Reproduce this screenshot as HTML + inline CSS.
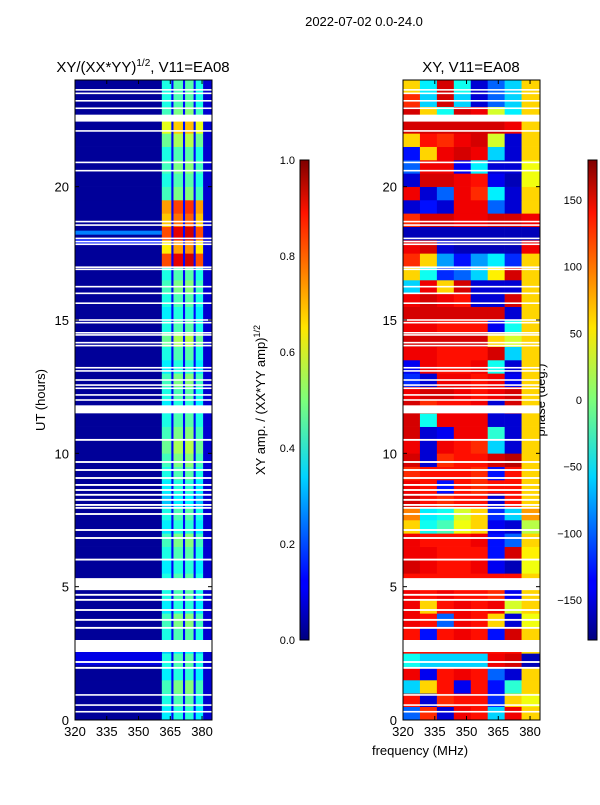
<!DOCTYPE html>
<html><head><meta charset="utf-8">
<style>
body{margin:0;background:#fff;}
svg text{font-family:"Liberation Sans",sans-serif;fill:#000;}
</style></head>
<body>
<svg id="fig" width="600" height="800" xmlns="http://www.w3.org/2000/svg">
<defs>
<linearGradient id="jet" x1="0" y1="1" x2="0" y2="0">
<stop offset="0" stop-color="#00007f"/><stop offset="0.11" stop-color="#0000ff"/>
<stop offset="0.125" stop-color="#0000ff"/><stop offset="0.34" stop-color="#00d4ff"/>
<stop offset="0.5" stop-color="#7dff7a"/><stop offset="0.65" stop-color="#ffe600"/>
<stop offset="0.89" stop-color="#ff1300"/><stop offset="1" stop-color="#7f0000"/>
</linearGradient>
</defs>
<text x="364" y="26" font-size="13" text-anchor="middle">2022-07-02 0.0-24.0</text>
<text x="143" y="72" font-size="15" text-anchor="middle">XY/(XX*YY)<tspan font-size="10" dy="-6">1/2</tspan><tspan dy="6">, V11=EA08</tspan></text>
<text x="471" y="72" font-size="15" text-anchor="middle">XY, V11=EA08</text>
<text transform="translate(45,400) rotate(-90)" font-size="13" text-anchor="middle">UT (hours)</text>
<text x="420" y="755" font-size="13" text-anchor="middle">frequency (MHz)</text>
<text transform="translate(265,400) rotate(-90)" font-size="13" text-anchor="middle">XY amp. / (XX*YY amp)<tspan font-size="9" dy="-5">1/2</tspan></text>
<text transform="translate(545,400) rotate(-90)" font-size="13" text-anchor="middle">phase (deg.)</text>
<g id="left"></g>
<g id="right"></g>
<g id="axes"></g>
<rect x="300" y="160" width="9" height="480" fill="url(#jet)" stroke="#000" stroke-width="1"/>
<rect x="588" y="160" width="9" height="480" fill="url(#jet)" stroke="#000" stroke-width="1"/>
</svg>
<script>
// ---- data ----
const ampColEdges=[320,361,365.5,366.5,371,372,376,377,380.5,384.7];
const ampColVals=[0.025,0.40,0.12,0.45,0.13,0.46,0.13,0.40,0.08];
// half-hour row gains for band region (0h upward)
const ampRowGain=[0.9,1.0,1.1,0.9,1.0,0.8,1.0,1.1,0.9,1.0,1.0,0.9,1.0,1.1,0.9,1.0,0.8,0.9,1.0,1.1,1.2,1.1,1.0,0.9,1.0,1.1,0.9,1.0,1.2,1.0,0.9,1.0,1.1,1.0,2.0,1.6,2.0,1.7,1.8,1.1,1.0,1.1,1.0,1.2,1.5,1.1,1.0,1.0];
const ampLowRows=[[2.05,2.55,0.1],[18.2,18.35,0.25],[17.85,18.05,0.15]];
const gaps=[[0.28,0.34],[0.53,0.59],[0.91,0.97],[1.92,1.99],[2.14,2.21],[2.55,3.0],[3.42,3.49],[3.72,3.79],[4.09,4.16],[4.47,4.54],[4.66,4.73],[4.87,5.32],[5.98,6.05],[6.79,6.86],[7.09,7.16],[7.69,7.76],[7.92,7.99],[8.03,8.1],[8.22,8.29],[8.41,8.48],[8.59,8.66],[8.78,8.85],[9.04,9.11],[9.34,9.41],[9.64,9.71],[10.47,10.54],[11.5,11.8],[11.97,12.03],[12.16,12.22],[12.41,12.47],[12.53,12.59],[12.72,12.78],[13.06,13.12],[13.18,13.24],[14.01,14.07],[14.12,14.18],[14.41,14.47],[14.49,14.55],[14.87,14.93],[14.97,15.03],[15.6,15.66],[15.97,16.03],[16.22,16.28],[16.87,16.93],[16.95,17.01],[17.81,17.87],[17.91,17.97],[18.03,18.09],[18.53,18.59],[18.66,18.72],[20.57,20.63],[20.88,20.94],[22.06,22.12],[22.44,22.7],[22.91,22.97],[23.19,23.25],[23.47,23.53],[23.6,23.66]];
const phaseRows=[
[-100,120,-150,140,130,-60,140,60],[130,-150,120,130,130,-120,60,40],[-60,60,130,-140,130,-130,-30,60],[140,-140,130,140,130,-100,-150,60],
[-40,-60,-60,-60,-60,140,150,-160],[130,130,130,130,130,130,130,60],[130,-130,130,140,130,-130,150,60],[140,130,-100,140,130,60,-150,40],
[140,60,130,140,130,140,30,60],[140,130,140,130,130,120,-140,60],[130,130,130,130,130,130,130,60],[150,140,130,130,140,-140,-160,40],
[140,140,130,130,130,-130,150,50],[140,130,130,130,140,-130,-100,60],[60,-40,-20,40,60,-140,-150,20],[90,-50,-40,30,60,-120,-60,80],
[150,130,120,130,130,-150,130,60],[140,130,-130,130,120,130,130,60],[120,130,130,130,120,-130,130,60],[150,-150,120,130,130,150,160,60],
[140,-150,140,130,120,-60,-150,60],[150,-150,-140,140,140,-30,-150,60],[150,-40,140,140,140,-150,-150,60],[150,120,130,130,140,-150,150,60],
[140,150,150,140,130,140,150,60],[-120,-150,140,140,130,140,-140,60],[-140,140,130,130,140,-40,-150,60],[140,140,130,130,130,150,-60,60],
[150,150,150,150,150,60,30,60],[140,140,130,130,130,-140,-40,60],[150,150,150,150,150,150,-150,60],[140,150,140,130,-150,-150,150,60],
[-60,140,60,150,-150,-150,-150,60],[60,-40,-120,-100,-60,50,150,60],[120,60,-80,-130,-80,-50,-120,60],[140,150,-150,-160,-160,-160,-160,140],
[-160,-160,-160,-160,-160,-160,-160,-160],[120,150,150,140,140,150,150,140],[-150,-130,-150,140,140,-100,-150,60],[140,-150,-100,140,120,-50,-150,60],
[-150,150,150,140,130,-140,-160,40],[-100,140,140,-140,-50,-150,-150,40],[-130,60,140,150,140,-60,-150,60],[60,130,120,140,150,30,-150,60],
[150,150,150,150,150,150,140,60],[150,60,-40,150,140,30,-50,60],[120,-60,150,-60,-150,-100,-60,60],[60,-50,150,-40,-150,-100,-60,60]];
const phaseColEdges=[320,328,336,344,352,360,368,376,384.7];
const xTicks=[320,335,350,365,380];
const yTicks=[0,5,10,15,20];
const ampTicks=[0.0,0.2,0.4,0.6,0.8,1.0];
const phaseTicks=[-150,-100,-50,0,50,100,150];

// ---- scales ----
const NS="http://www.w3.org/2000/svg";
const PL={x0:75,x1:212},PR={x0:403,x1:540},Y0=720,Y1=80,F0=320,F1=384.7;
const yS=h=>Y0-(h/24)*(Y0-Y1);
const xS=(p,f)=>p.x0+(f-F0)/(F1-F0)*(p.x1-p.x0);
function jet(v){v=Math.max(0,Math.min(1,v));
 const r=Math.max(0,Math.min(1,Math.min(4*v-1.5,-4*v+4.5)));
 const g=Math.max(0,Math.min(1,Math.min(4*v-0.5,-4*v+3.5)));
 const b=Math.max(0,Math.min(1,Math.min(4*v+0.5,-4*v+2.5)));
 return `rgb(${Math.round(r*255)},${Math.round(g*255)},${Math.round(b*255)})`;}
function mk(tag,attrs,parent){const e=document.createElementNS(NS,tag);for(const k in attrs)e.setAttribute(k,attrs[k]);parent.appendChild(e);return e;}
const L=document.getElementById('left'),R=document.getElementById('right'),A=document.getElementById('axes');

// left heatmap
for(let r=0;r<ampRowGain.length;r++){
 const h0=r*0.5,h1=h0+0.5;
 for(let c=0;c<ampColVals.length;c++){
  let v=ampColVals[c];
  if(v>0.2) v=v*ampRowGain[r];
  const e=mk('rect',{x:xS(PL,ampColEdges[c]),y:yS(h1),width:xS(PL,ampColEdges[c+1])-xS(PL,ampColEdges[c])+0.3,height:yS(h0)-yS(h1)+0.3,fill:jet(v)},L);
  
  
 }
}
for(const b of ampLowRows){
 const e=mk('rect',{x:PL.x0,y:yS(b[1]),width:xS(PL,361)-PL.x0,height:yS(b[0])-yS(b[1]),fill:jet(b[2])},L);
 
 
}
// right heatmap
for(let r=0;r<phaseRows.length;r++){
 const h0=r*0.5,h1=h0+0.5;
 for(let c=0;c<phaseRows[r].length;c++){
  const v=(phaseRows[r][c]+180)/360;
  const e=mk('rect',{x:xS(PR,phaseColEdges[c]),y:yS(h1),width:xS(PR,phaseColEdges[c+1])-xS(PR,phaseColEdges[c])+0.3,height:yS(h0)-yS(h1)+0.3,fill:jet(v)},R);
  
  
 }
}
// gaps
for(const p of [PL,PR]){
 for(const g of gaps){
  const e=mk('rect',{x:p.x0,y:yS(g[1]),width:p.x1-p.x0,height:Math.max(1.2,yS(g[0])-yS(g[1])),fill:'#fff'},A);
  
  
 }
 const fr=mk('rect',{x:p.x0,y:Y1,width:p.x1-p.x0,height:Y0-Y1,fill:'none',stroke:'#000','stroke-width':1},A);
 
 
 for(const t of xTicks){
  const x=xS(p,t);
  mk('line',{x1:x,x2:x,y1:Y0,y2:Y0-4,stroke:'#000'},A);
  mk('line',{x1:x,x2:x,y1:Y1,y2:Y1+4,stroke:'#000'},A);
  const tx=mk('text',{x:x,y:Y0+16,'font-size':13,'text-anchor':'middle'},A);tx.textContent=t;
  
  
 }
 for(const t of yTicks){
  const y=yS(t);
  mk('line',{x1:p.x0,x2:p.x0+4,y1:y,y2:y,stroke:'#000'},A);
  mk('line',{x1:p.x1,x2:p.x1-4,y1:y,y2:y,stroke:'#000'},A);
  const tx=mk('text',{x:p.x0-6,y:y+5,'font-size':13,'text-anchor':'end'},A);tx.textContent=t;
  
  
 }
}
// colorbar ticks
for(const t of ampTicks){
 const y=640-t*480;
 const tx=mk('text',{x:295,y:y+4,'font-size':11,'text-anchor':'end'},A);tx.textContent=t.toFixed(1);
 
 
}
for(const t of phaseTicks){
 const y=640-(t+180)/360*480;
 const tx=mk('text',{x:582,y:y+4,'font-size':11,'text-anchor':'end'},A);tx.textContent=t===0?'0':(t<0?'\u2212'+(-t):t);
 
 
}
</script>
</body></html>
